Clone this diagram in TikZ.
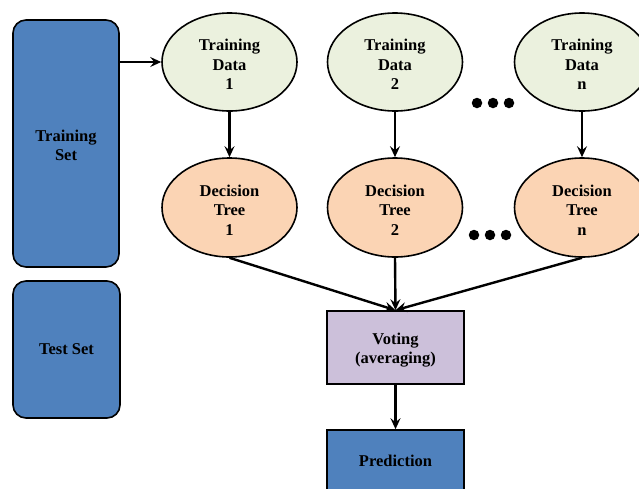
\documentclass[tikz,border=0pt]{standalone}
\usepackage{fontspec}
\setmainfont{Liberation Serif}
\usetikzlibrary{shapes.geometric,arrows.meta}
\definecolor{setblue}{HTML}{4F81BD}
\definecolor{datagreen}{HTML}{EBF1DE}
\definecolor{treepeach}{HTML}{FBD4B4}
\definecolor{votelav}{HTML}{CCC0DA}
\newcommand\mytstrut[1]{\rule{0pt}{#1}}
\tikzset{
  lbl/.style={font=\bfseries\fontsize{16.5}{19.5}\selectfont, align=center, text=black},
  setbox/.style={lbl, draw=black, line width=1.6pt, fill=setblue, rounded corners=13pt, inner sep=0pt},
  dataell/.style={lbl, ellipse, draw=black, line width=1.6pt, fill=datagreen, minimum width=135pt, minimum height=98pt, inner sep=0pt},
  treeell/.style={lbl, ellipse, draw=black, line width=1.6pt, fill=treepeach, minimum width=135pt, minimum height=99pt, inner sep=0pt},
  sqbox/.style={lbl, draw=black, line width=1.6pt, inner sep=0pt, minimum width=137pt},
  conn/.style={line width=2.4pt, -{Stealth[length=11pt,width=10pt,inset=4pt]}},
  dot/.style={circle, fill=black, minimum size=10.5pt, inner sep=0pt}
}
\begin{document}
\begin{tikzpicture}[x=1pt,y=-1pt]
\clip (0,0) rectangle (639,488);
\useasboundingbox (0,0) rectangle (639,488);
\node[setbox, minimum width=106pt, minimum height=247pt] (ts) at (66,143.5) {\mytstrut{15pt}Training\\Set};
\node[setbox, minimum width=107pt, minimum height=137pt] (tes) at (66.5,349.5) {Test Set};
\node[dataell] (d1) at (229.5,62) {\mytstrut{16pt}Training\\Data\\1};
\node[dataell] (d2) at (395,62) {\mytstrut{16pt}Training\\Data\\2};
\node[dataell] (dn) at (582,62) {\mytstrut{16pt}Training\\Data\\n};
\node[treeell] (t1) at (229.5,207.5) {\mytstrut{16pt}Decision\\Tree\\1};
\node[treeell] (t2) at (395,207.5) {\mytstrut{16pt}Decision\\Tree\\2};
\node[treeell] (tn) at (582,207.5) {\mytstrut{16pt}Decision\\Tree\\n};
\node[sqbox, fill=votelav, minimum height=73pt] (vote) at (395.5,347.5) {\mytstrut{17pt}Voting\\(averaging)};
\node[sqbox, fill=setblue, minimum height=80pt] (pred) at (395.5,470) {};
\node[lbl] (predl) at (395.5,461) {Prediction};
\node[dot] (a1) at (477,103) {};
\node[dot] (a2) at (493,103) {};
\node[dot] (a3) at (509,103) {};
\node[dot] (b1) at (474,235) {};
\node[dot] (b2) at (490,235) {};
\node[dot] (b3) at (506,235) {};
\draw[conn] (ts.east |- d1.west) -- (d1.west);
\draw[conn] (d1.south) -- (t1.north);
\draw[conn] (d2.south) -- (t2.north);
\draw[conn] (dn.south) -- (tn.north);
\draw[conn] (t1.south) -- (vote.north);
\draw[conn] (t2.south) -- (vote.north);
\draw[conn] (tn.south) -- (vote.north);
\draw[conn] (vote.south) -- (pred.north);
\end{tikzpicture}
\end{document}
